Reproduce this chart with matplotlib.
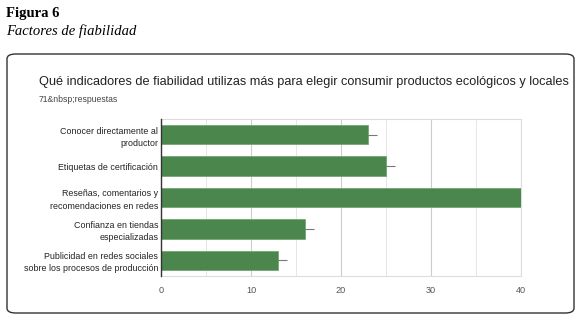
import matplotlib.pyplot as plt
from matplotlib.patches import FancyBboxPatch
from matplotlib.ticker import MultipleLocator

categorias = ['Conocer directamente al\nproductor',
              'Etiquetas de certificación',
              'Reseñas, comentarios y\nrecomendaciones en redes',
              'Confianza en tiendas\nespecializadas',
              'Publicidad en redes sociales\nsobre los procesos de producción']
valores = [23, 25, 40, 16, 13]
errores = [1, 1, 0, 1, 1]
ticks_x = [0, 10, 20, 30, 40]

fig = plt.figure(figsize=(5.81, 3.22), dpi=100)
W, H = 581, 322

# encabezado estilo APA
fig.text(6 / W, 1 - 13 / H, 'Figura 6', family='Liberation Serif', weight='bold',
         fontsize=10.5, va='center', ha='left')
fig.text(6 / W, 1 - 31 / H, 'Factores de fiabilidad', family='Liberation Serif',
         style='italic', fontsize=10.5, va='center', ha='left')

# marco redondeado
caja = FancyBboxPatch((7 / W, 1 - 313 / H), 567 / W, 259 / H,
                      boxstyle='round,pad=0,rounding_size=0.015',
                      transform=fig.transFigure, fill=False, edgecolor='#333333', lw=1.0)
fig.patches.append(caja)

fig.text(39 / W, 1 - 82 / H,
         'Qué indicadores de fiabilidad utilizas más para elegir consumir productos ecológicos y locales',
         family='Liberation Sans', fontsize=9.2, color='#222222', va='center', ha='left')
fig.text(39 / W, 1 - 99 / H, '71&nbsp;respuestas', family='Liberation Sans',
         fontsize=6.2, color='#444444', va='center', ha='left')

ax = fig.add_axes([161 / W, 1 - 276 / H, (521 - 161) / W, (276 - 119) / H])
y = list(range(len(categorias)))
ax.errorbar(valores, y, xerr=errores, fmt='none', ecolor='#777777', elinewidth=0.8,
            capsize=0, zorder=2)
ax.barh(y, valores, height=0.62, color='#4b864d', edgecolor='#6aa16b', lw=0.5, zorder=3)
ax.set_ylim(len(categorias) - 0.5, -0.5)
ax.set_xlim(0, 40)
ax.set_yticks(y)
ax.set_yticklabels(categorias, family='Liberation Sans', fontsize=6.4, color='#222222',
                   linespacing=1.45)
ax.set_xticks(ticks_x)
ax.set_xticklabels([str(t) for t in ticks_x], family='Liberation Sans', fontsize=6.6,
                   color='#555555')
ax.xaxis.set_minor_locator(MultipleLocator(5))
ax.tick_params(axis='both', which='both', length=0)
ax.tick_params(axis='x', pad=7)
ax.tick_params(axis='y', pad=2)
ax.grid(axis='x', which='major', color='#cccccc', lw=0.8, zorder=0)
ax.grid(axis='x', which='minor', color='#e6e6e6', lw=0.7, zorder=0)
ax.set_axisbelow(True)
for lado in ['top', 'right', 'bottom']:
    ax.spines[lado].set_color('#dddddd')
    ax.spines[lado].set_linewidth(0.8)
ax.spines['left'].set_color('#333333')
ax.spines['left'].set_linewidth(1.0)
ax.spines['left'].set_zorder(5)

fig.savefig('out.png', dpi=100)
